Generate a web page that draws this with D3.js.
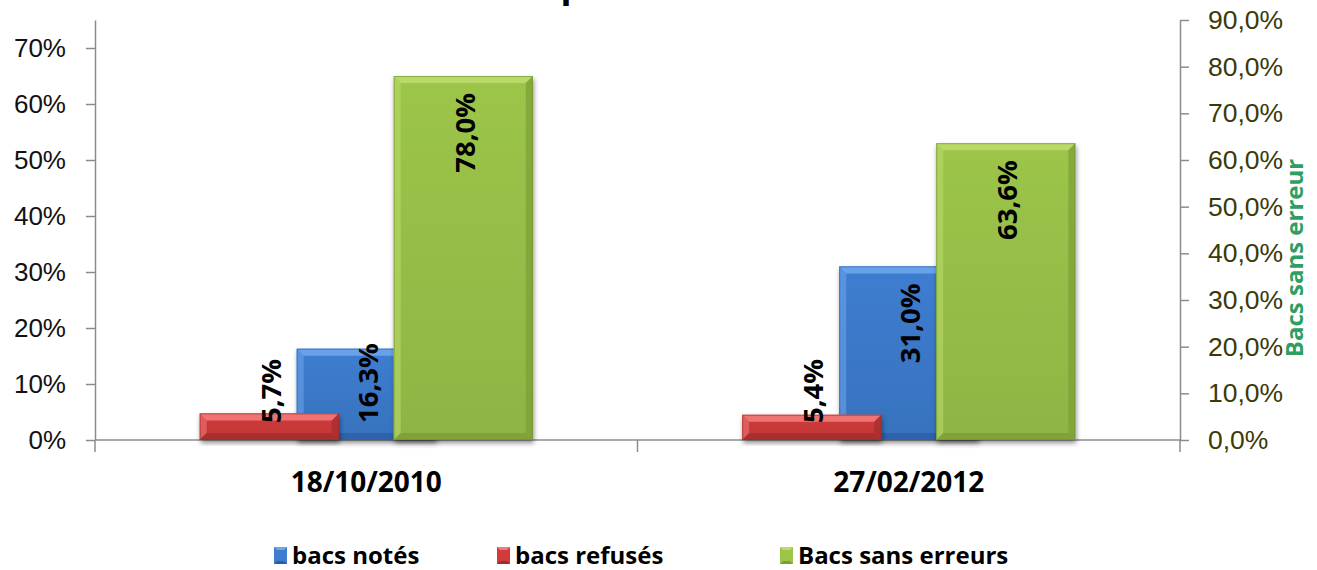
<!DOCTYPE html>
<html>
<head>
<meta charset="utf-8">
<script src="https://cdn.jsdelivr.net/npm/d3@7"></script>
<style>
  body { margin: 0; background: #fff; }
  svg { font-family: "Open Sans", "DejaVu Sans", sans-serif; }
</style>
</head>
<body>
<div id="chart"></div>
<script>
// data
var categories = ["18/10/2010", "27/02/2012"];
var bacsNotes = [0.163, 0.310];        // primary axis (left)
var bacsRefuses = [0.057, 0.054];      // secondary axis (right)
var bacsSansErreurs = [0.780, 0.636];  // secondary axis (right)
var leftTicks = [0, 0.1, 0.2, 0.3, 0.4, 0.5, 0.6, 0.7];
var rightTicks = [0, 0.1, 0.2, 0.3, 0.4, 0.5, 0.6, 0.7, 0.8, 0.9];

var width = 1317, height = 570;
var plotLeft = 95, plotRight = 1180, plotTop = 20, base = 440;

var frLocale = d3.formatLocale({decimal: ",", thousands: " ", grouping: [3], currency: ["", " €"]});
var fmtRight = frLocale.format(".1%");
var fmtLeft = frLocale.format(".0%");

var colors = {
    blue:  {main: "#3d7dd0", light: "#6ea6ec", dark: "#2a5ea8", edge: "#2d62a8"},
    red:   {main: "#d13b3b", light: "#f27a7a", dark: "#a32d2d", edge: "#9c2c2c"},
    green: {main: "#9cc54a", light: "#bcdc6a", dark: "#7c9e34", edge: "#6e8f2e"}
};

var svg = d3.select("#chart").append("svg")
    .attr("width", width)
    .attr("height", height);

var defs = svg.append("defs");
var shadow = defs.append("filter").attr("id", "shadow")
    .attr("x", "-10%").attr("y", "-10%").attr("width", "120%").attr("height", "130%");
shadow.append("feDropShadow")
    .attr("dx", 1).attr("dy", 3).attr("stdDeviation", 2.5)
    .attr("flood-color", "#000").attr("flood-opacity", 0.45);

Object.keys(colors).forEach(function (k) {
    var g = defs.append("linearGradient").attr("id", "grad-" + k)
        .attr("x1", 0).attr("y1", 0).attr("x2", 0).attr("y2", 1);
    g.append("stop").attr("offset", "0%").attr("stop-color", colors[k].main);
    g.append("stop").attr("offset", "100%").attr("stop-color", d3.color(colors[k].main).darker(0.25));
});

// scales
var x0 = d3.scaleBand().domain(categories).range([plotLeft, plotRight]);
var xSec = d3.scaleBand().domain(["refuses", "sans"])
    .range([x0.bandwidth() * 0.193, x0.bandwidth() * 0.807])
    .paddingInner(0.283);
var barW = xSec.bandwidth();
var yL = d3.scaleLinear().domain([0, 0.75]).range([base, plotTop]);
var yR = d3.scaleLinear().domain([0, 0.9]).range([base, plotTop]);

// axes
var axisColor = "#8c8c8c";
var gl = svg.append("g").attr("transform", "translate(" + plotLeft + ",0)")
    .call(d3.axisLeft(yL).tickValues(leftTicks).tickFormat(fmtLeft).tickSize(9).tickSizeOuter(0));
gl.select(".domain").attr("stroke", axisColor).attr("stroke-width", 1.5);
gl.selectAll(".tick line").attr("stroke", axisColor).attr("stroke-width", 1.5);
gl.selectAll(".tick text").attr("fill", "#111").style("font-size", "26px").attr("x", -29);

var gr = svg.append("g").attr("transform", "translate(" + plotRight + ",0)")
    .call(d3.axisRight(yR).tickValues(rightTicks).tickFormat(fmtRight).tickSize(9).tickSizeOuter(0));
gr.select(".domain").attr("stroke", axisColor).attr("stroke-width", 1.5);
gr.selectAll(".tick line").attr("stroke", axisColor).attr("stroke-width", 1.5);
gr.selectAll(".tick text").attr("fill", "#3a3a08").style("font-size", "26.5px").attr("x", 28);

// x axis baseline and category ticks
svg.append("line")
    .attr("x1", plotLeft).attr("x2", plotRight).attr("y1", base).attr("y2", base)
    .attr("stroke", axisColor).attr("stroke-width", 1.5);
svg.selectAll(".xtick")
    .data([plotLeft].concat(categories.map(function (c) { return x0(c) + x0.bandwidth(); })))
    .enter().append("line")
    .attr("x1", function (d) { return d; }).attr("x2", function (d) { return d; })
    .attr("y1", base).attr("y2", base + 12)
    .attr("stroke", axisColor).attr("stroke-width", 1.5);
svg.selectAll(".xlabel").data(categories).enter().append("text")
    .attr("x", function (d) { return x0(d) + x0.bandwidth() / 2; })
    .attr("y", 492)
    .attr("text-anchor", "middle")
    .style("font-size", "28px").style("font-weight", "bold")
    .text(function (d) { return d; });

// bevelled bar
function bevelBar(g, x, y, w, h, c) {
    var b = Math.min(7, h / 2, w / 2);
    var bar = g.append("g").attr("filter", "url(#shadow)");
    bar.append("rect").attr("x", x).attr("y", y).attr("width", w).attr("height", h)
        .attr("fill", "url(#grad-" + c + ")");
    var p = function (pts) { return pts.map(function (q) { return q.join(","); }).join(" "); };
    g.append("polygon").attr("points", p([[x, y], [x + w, y], [x + w - b, y + b], [x + b, y + b]]))
        .attr("fill", colors[c].light).attr("opacity", 0.9);
    g.append("polygon").attr("points", p([[x, y], [x + b, y + b], [x + b, y + h - b], [x, y + h]]))
        .attr("fill", colors[c].light).attr("opacity", 0.55);
    g.append("polygon").attr("points", p([[x + w, y], [x + w, y + h], [x + w - b, y + h - b], [x + w - b, y + b]]))
        .attr("fill", colors[c].dark).attr("opacity", 0.7);
    g.append("polygon").attr("points", p([[x, y + h], [x + b, y + h - b], [x + w - b, y + h - b], [x + w, y + h]]))
        .attr("fill", colors[c].dark).attr("opacity", 0.8);
    g.append("rect").attr("x", x + 0.5).attr("y", y + 0.5).attr("width", w - 1).attr("height", h - 1)
        .attr("fill", "none").attr("stroke", colors[c].edge).attr("stroke-width", 1).attr("opacity", 0.6);
}

var bars = svg.append("g");
var labels = [];
categories.forEach(function (cat, i) {
    var cx = x0(cat) + x0.bandwidth() / 2;
    var yb = yL(bacsNotes[i]);
    bevelBar(bars, cx - barW / 2, yb, barW, base - yb, "blue");
    labels.push({x: cx, top: yb, v: bacsNotes[i]});
});
categories.forEach(function (cat, i) {
    var xr = x0(cat) + xSec("refuses");
    var yr = yR(bacsRefuses[i]);
    bevelBar(bars, xr, yr, barW, base - yr, "red");
    labels.push({x: xr + barW / 2, top: yr, v: bacsRefuses[i]});
    var xg = x0(cat) + xSec("sans");
    var yg = yR(bacsSansErreurs[i]);
    bevelBar(bars, xg, yg, barW, base - yg, "green");
    labels.push({x: xg + barW / 2, top: yg, v: bacsSansErreurs[i]});
});

// data labels, rotated
var lowest = 423;
labels.forEach(function (d) {
    var t = svg.append("text")
        .style("font-size", "27.5px").style("font-weight", "bold")
        .attr("dominant-baseline", "central")
        .text(fmtRight(d.v));
    var len = t.node().getComputedTextLength();
    var yTop = d.top + 17;
    if (yTop + len > lowest) yTop = lowest - len;
    t.attr("text-anchor", "end")
        .attr("transform", "translate(" + (d.x + 1) + "," + yTop + ") rotate(-90)");
});

// secondary axis title
svg.append("text")
    .attr("transform", "translate(1293,258) rotate(-90)")
    .attr("text-anchor", "middle")
    .attr("dominant-baseline", "central")
    .attr("fill", "#2f9e63")
    .style("font-size", "24px").style("font-weight", "bold")
    .text("Bacs sans erreur");

// title, mostly cut off above the frame
svg.append("text")
    .attr("x", 480).attr("y", -3)
    .style("font-size", "36px").style("font-weight", "bold")
    .text("Comparaison");

// legend
var legendItems = [
    {name: "bacs notés", c: "blue", x: 274},
    {name: "bacs refusés", c: "red", x: 497},
    {name: "Bacs sans erreurs", c: "green", x: 780}
];
var lg = svg.append("g");
legendItems.forEach(function (d) {
    var s = 13, sy = 547, sh = 17;
    lg.append("rect").attr("x", d.x).attr("y", sy).attr("width", s).attr("height", sh)
        .attr("fill", colors[d.c].main);
    lg.append("polygon").attr("points", [[d.x, sy], [d.x + s, sy], [d.x + s - 3, sy + 3], [d.x + 3, sy + 3]].join(" "))
        .attr("fill", colors[d.c].light);
    lg.append("polygon").attr("points", [[d.x, sy + sh], [d.x + 3, sy + sh - 3], [d.x + s - 3, sy + sh - 3], [d.x + s, sy + sh]].join(" "))
        .attr("fill", colors[d.c].dark);
    lg.append("text")
        .attr("x", d.x + 18).attr("y", 554)
        .attr("dominant-baseline", "central")
        .style("font-size", "24px").style("font-weight", "bold")
        .text(d.name);
});
</script>
</body>
</html>
